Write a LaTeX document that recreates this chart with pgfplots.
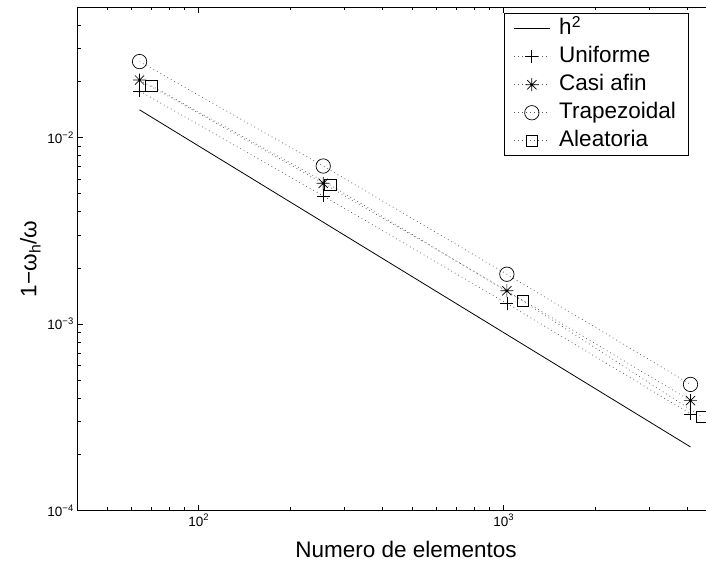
\documentclass[border=0pt]{standalone}
\usepackage{fontspec}
\setmainfont{Liberation Sans}
\usepackage{pgfplots}
\pgfplotsset{compat=1.18}
\pgfdeclareplotmark{mstar}{%
 \pgfpathmoveto{\pgfqpoint{\pgfplotmarksize}{0pt}}\pgfpathlineto{\pgfqpoint{-\pgfplotmarksize}{0pt}}%
 \pgfpathmoveto{\pgfqpoint{0pt}{\pgfplotmarksize}}\pgfpathlineto{\pgfqpoint{0pt}{-\pgfplotmarksize}}%
 \pgfpathmoveto{\pgfqpoint{.7071\pgfplotmarksize}{.7071\pgfplotmarksize}}\pgfpathlineto{\pgfqpoint{-.7071\pgfplotmarksize}{-.7071\pgfplotmarksize}}%
 \pgfpathmoveto{\pgfqpoint{-.7071\pgfplotmarksize}{.7071\pgfplotmarksize}}\pgfpathlineto{\pgfqpoint{.7071\pgfplotmarksize}{-.7071\pgfplotmarksize}}%
 \pgfusepathqstroke}
\begin{document}
\begin{tikzpicture}[trim left=-77.3pt, trim right=628.7pt]
\begin{axis}[
  xmode=log, ymode=log,
  scale only axis, width=639.6pt, height=503.7pt,
  xmin=40, xmax=5000, ymin=1e-4, ymax=0.05,
  xtick={100,1000}, xticklabels={10\textsuperscript{2},10\textsuperscript{3}},
  minor xtick={50,60,70,80,90,200,300,400,500,600,700,800,900,2000,3000,4000},
  ytick={1e-4,1e-3,1e-2}, yticklabels={10\textsuperscript{−4},10\textsuperscript{−3},10\textsuperscript{−2}},
  minor ytick={2e-4,3e-4,4e-4,5e-4,6e-4,7e-4,8e-4,9e-4,2e-3,3e-3,4e-3,5e-3,6e-3,7e-3,8e-3,9e-3,2e-2,3e-2,4e-2},
  tick label style={font=\fontsize{13.5}{15}\selectfont},
  major tick length=5.7pt, minor tick length=3.3pt,
  tick style={black, line width=0.6pt},
  axis line style={line width=0.9pt},
  xlabel={Numero de elementos},
  ylabel={1−ω\textsubscript{h}/ω},
  every axis x label/.style={at={(axis description cs:0.514,0)}, yshift=-38.3pt, anchor=center, font=\fontsize{22.5}{26}\selectfont},
  every axis y label/.style={at={(axis description cs:-0.0735,0.5)}, rotate=90, anchor=center, font=\fontsize{22.5}{26}\selectfont},
  legend cell align=left,
  legend style={at={(axis description cs:0.6671,0.9875)}, anchor=north west,
    font=\fontsize{22.5}{26}\selectfont, draw=black, line width=0.9pt, inner xsep=9pt, inner ysep=1pt, row sep=0pt,
    nodes={inner sep=3pt, text height=17pt, text depth=5pt},
    /tikz/every odd column/.append style={column sep=6pt}},
  legend image code/.code={\draw[#1, mark repeat=2, mark phase=2] plot coordinates {(0pt,0pt) (18pt,0pt) (36pt,0pt)};},
]
\addplot[black, line width=0.8pt, no markers] coordinates {(64,0.01406) (256,0.003516) (1024,0.000879) (4096,0.0002197)};
\addlegendentry{h\textsuperscript{2}}
\addplot[black!65, line width=0.7pt, dash pattern=on 0.8pt off 3.2pt, mark=+, mark size=6.5pt, mark options={solid, black, line width=0.7pt}] coordinates {(64,0.01774) (256,0.00486) (1024,0.00129) (4096,0.000330)};
\addlegendentry{Uniforme}
\addplot[black!65, line width=0.7pt, dash pattern=on 0.8pt off 3.2pt, mark=mstar, mark size=6.5pt, mark options={solid, black, line width=0.7pt}] coordinates {(64,0.0203) (256,0.00568) (1024,0.00151) (4096,0.000389)};
\addlegendentry{Casi afin}
\addplot[black!65, line width=0.7pt, dash pattern=on 0.8pt off 3.2pt, mark=o, mark size=7.2pt, mark options={solid, black, line width=0.7pt, fill=none}] coordinates {(64,0.0255) (256,0.00703) (1024,0.00185) (4096,0.000475)};
\addlegendentry{Trapezoidal}
\addplot[black!65, line width=0.7pt, dash pattern=on 0.8pt off 3.2pt, mark=square, mark size=5.8pt, mark options={solid, black, line width=0.7pt, fill=none}] coordinates {(70,0.0189) (270,0.00556) (1154,0.00133) (4467,0.000318)};
\addlegendentry{Aleatoria}
\end{axis}
\path (0pt,-54.3pt) rectangle (1pt,510.7pt);
\end{tikzpicture}
\end{document}
